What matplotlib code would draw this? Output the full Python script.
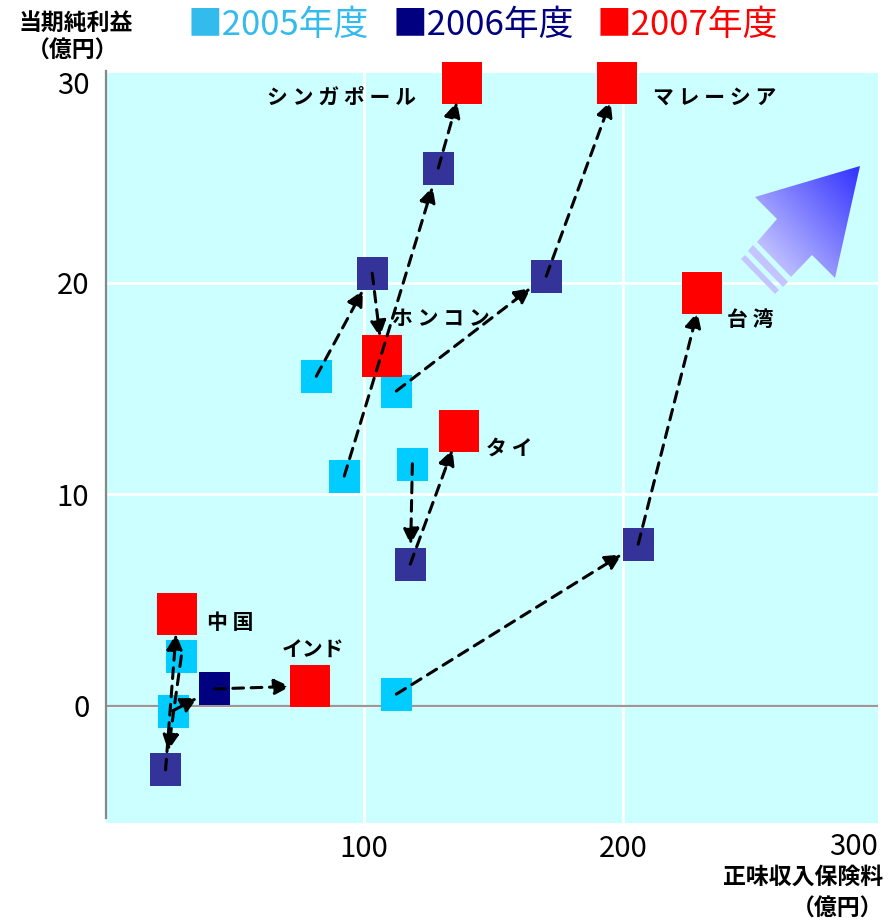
import numpy as np
import matplotlib
matplotlib.use("Agg")
import matplotlib.pyplot as plt
from matplotlib.patches import Polygon
from matplotlib.colors import LinearSegmentedColormap

plt.rcParams['font.family'] = ['Noto Sans CJK JP', 'DejaVu Sans']

countries = ['中国', 'インド', 'ホンコン', 'マレーシア', 'シンガポール', 'タイ', '台湾']
labels = ['中 国', 'インド', 'ホ ン コ ン', 'マ レ ー シ ア', 'シ ン ガ ポ ー ル', 'タ イ', '台 湾']
years = ['2005年度', '2006年度', '2007年度']

# 正味収入保険料 (億円)
prem_2005 = [29.5, 26.1, 81.6, 112.5, 92.4, 118.7, 112.5]
prem_2006 = [23.4, 42.3, 103.2, 170.4, 128.7, 117.9, 205.9]
prem_2007 = [28.0, 79.0, 107.1, 197.8, 138.0, 136.8, 230.6]
# 当期純利益 (億円)
profit_2005 = [2.35, -0.25, 15.57, 14.87, 10.85, 11.43, 0.54]
profit_2006 = [-3.04, 0.79, 20.44, 20.30, 25.41, 6.69, 7.63]
profit_2007 = [4.31, 0.93, 16.52, 29.43, 29.43, 12.97, 19.50]

xticks = [100, 200, 300]
yticks = [0, 10, 20, 30]

# styling
legend_colors = ['#33bbee', '#000080', '#ff0000']
c2005 = '#00ccff'
c2006 = ['#333399', '#000080', '#333399', '#333399', '#333399', '#333399', '#333399']
c2007 = '#ff0000'
# label offset from the 2007 marker, in pixels (dx, dy down), alignment
label_pos = [(30, 8, 'left'), (4, -36, 'center'), (10, -38, 'left'), (36, 14, 'left'),
             (-46, 14, 'right'), (27, 17, 'left'), (25, 26, 'left')]

W, H = 896, 922
fig = plt.figure(figsize=(W / 100, H / 100), dpi=100)
ax = fig.add_axes([106 / W, 1 - 823 / H, 772 / W, 752 / H])
ax.set_facecolor('#ccffff')
ax.set_xlim(0.4, 298.5)
ax.set_ylim(-5.55, 30)

ax.set_xticks(xticks[:2])
ax.set_yticks(yticks)
ax.grid(True, color='white', lw=2)
ax.set_axisbelow(True)
ax.axhline(0, color='#999999', lw=1.6, zorder=1)
for s in ['top', 'right', 'bottom']:
    ax.spines[s].set_visible(False)
ax.spines['left'].set_color('#888888')
ax.spines['left'].set_linewidth(1.6)
ax.spines['left'].set_bounds(-5.3, 30)
ax.tick_params(axis='both', length=0, labelsize=21)
ax.tick_params(axis='y', pad=12)
ax.tick_params(axis='x', pad=8)
ax.get_yticklabels()[-1].set_va('top')
ax.text(1.0, -0.012, str(xticks[2]), transform=ax.transAxes, ha='right', va='top', fontsize=21)

# rectangle marker, slightly taller than wide
rect = [(-31, -33), (31, -33), (31, 33), (-31, 33), (-31, -33)]
small = (33 * 0.72) ** 2
big = (43 * 0.72) ** 2
ax.scatter(prem_2005, profit_2005, marker=rect, s=small, color=c2005, zorder=3,
           linewidths=0, clip_on=False)
ax.scatter(prem_2006, profit_2006, marker=rect, s=small, color=c2006, zorder=3,
           linewidths=0, clip_on=False)
ax.scatter(prem_2007, profit_2007, marker=rect, s=big, color=c2007, zorder=3,
           linewidths=0, clip_on=False)

arrow_kw = dict(arrowstyle='-|>', color='k', lw=2.2, linestyle=(0, (3.5, 2.5)),
                shrinkA=0, shrinkB=14, mutation_scale=24)
for i in range(len(countries)):
    ax.annotate('', xy=(prem_2006[i], profit_2006[i]), xytext=(prem_2005[i], profit_2005[i]),
                arrowprops=arrow_kw, zorder=5)
    ax.annotate('', xy=(prem_2007[i], profit_2007[i]), xytext=(prem_2006[i], profit_2006[i]),
                arrowprops=arrow_kw, zorder=5)
    dx, dy, ha = label_pos[i]
    ax.annotate(labels[i], xy=(prem_2007[i], profit_2007[i]), xytext=(dx * 0.72, -dy * 0.72),
                textcoords='offset points', ha=ha, va='center', fontsize=15,
                fontweight='bold', zorder=6)

# titles and legend
fig.text(76 / W, 1 - 23 / H, '当期純利益', ha='center', va='center', fontsize=16.5, fontweight='bold')
fig.text(73 / W, 1 - 51 / H, '（億円）', ha='center', va='center', fontsize=16.5, fontweight='bold')
fig.text(883 / W, 1 - 877 / H, '正味収入保険料', ha='right', va='center', fontsize=16.5, fontweight='bold')
fig.text(883 / W, 1 - 909 / H, '（億円）', ha='right', va='center', fontsize=16.5, fontweight='bold')
for x0, yr, col in zip([188, 393, 597], years, legend_colors):
    fig.text(x0 / W, 1 - 25 / H, '■' + yr, ha='left', va='center', fontsize=25, color=col)

# decorative gradient arrow (upper right)
ov = fig.add_axes([0, 0, 1, 1], zorder=10)
ov.set_xlim(0, W)
ov.set_ylim(H, 0)
ov.axis('off')
ov.patch.set_alpha(0)
body = [(860, 166), (755, 197), (777, 219), (757, 242), (791, 277), (812, 255), (835, 278)]
poly = Polygon(body, closed=True, facecolor='none', edgecolor='none')
ov.add_patch(poly)
gx, gy = np.meshgrid(np.linspace(740, 865, 120), np.linspace(160, 300, 120))
t = ((gx - 770) * 0.75 + (265 - gy) * 0.66) / 130
cmap = LinearSegmentedColormap.from_list('arr', ['#c4c4ff', '#3333ff'])
im = ov.imshow(t, extent=(740, 865, 300, 160), cmap=cmap, vmin=0, vmax=1, aspect='auto')
im.set_clip_path(poly)
for band in [[(753, 245), (748, 251), (783, 287), (788, 282)],
             [(745, 255), (741, 259), (775, 294), (779, 290)]]:
    ov.add_patch(Polygon(band, closed=True, facecolor='#c4c4ff', edgecolor='none'))
ov.set_xlim(0, W)
ov.set_ylim(H, 0)

fig.savefig('out.png', dpi=100)
